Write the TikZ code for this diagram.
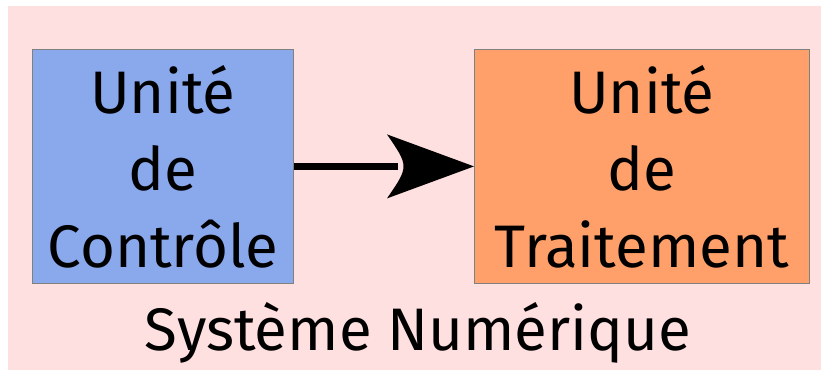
\documentclass[tikz,border=0pt]{standalone}
\usepackage{fontspec}
\setmainfont{Fira Sans}
\definecolor{bgpink}{RGB}{255,224,224}
\definecolor{ctrlblue}{RGB}{138,168,236}
\definecolor{procorange}{RGB}{255,160,106}
\definecolor{boxline}{RGB}{128,128,128}
\begin{document}
\begin{tikzpicture}[x=1pt,y=-1pt,
  unitbox/.style={draw=boxline,line width=0.8pt,minimum width=#1,minimum height=234pt,
    inner sep=0pt,align=center,font=\fontsize{60}{77}\selectfont},
  caption/.style={font=\fontsize{60}{77}\selectfont,inner sep=0pt}]
  \useasboundingbox (0,0) rectangle (821,371);
  % system background
  \fill[bgpink] (8,6) rectangle (821,370);
  % the two units
  \node[unitbox=261pt,fill=ctrlblue,anchor=north west] (ctrl) at (32,49) {Unité\\de\\Contrôle};
  \node[unitbox=335pt,fill=procorange,anchor=north west] (proc) at (474,49) {Unité\\de\\Traitement};
  % system label
  \node[caption,anchor=base] (sys) at (418,350) {Système Numérique};
  % connector with concave arrowhead
  \coordinate (tail) at ([xshift=104pt]ctrl.east);
  \draw[line width=6.5pt] (ctrl.east) -- (tail);
  \fill (proc.west) -- ([xshift=-87pt,yshift=32pt]proc.west)
    .. controls ([xshift=-65pt]proc.west) .. ([xshift=-87pt,yshift=-32pt]proc.west) -- cycle;
\end{tikzpicture}
\end{document}
